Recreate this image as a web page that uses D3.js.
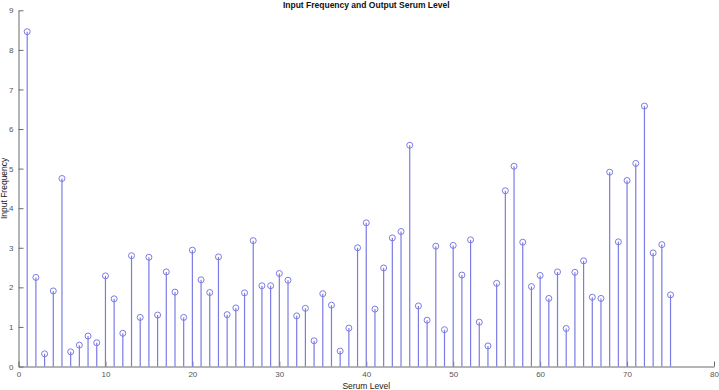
<!DOCTYPE html>
<html>
<head>
<meta charset="utf-8">
<script src="https://cdn.jsdelivr.net/npm/d3@7"></script>
<style>
    body { margin: 0; background: #fff; }
    text { font-family: Arial, "Liberation Sans", sans-serif; }
</style>
</head>
<body>
<svg class="chart" width="719" height="390"></svg>
<script>
"use strict";

const serumLevels = d3.range(1, 76);

const frequencies = [
    8.46, 2.25, 0.32, 1.91, 4.75, 0.37, 0.54, 0.77, 0.60, 2.29,
    1.71, 0.84, 2.80, 1.24, 2.76, 1.30, 2.39, 1.88, 1.24, 2.94,
    2.19, 1.87, 2.77, 1.31, 1.48, 1.86, 3.18, 2.04, 2.04, 2.35,
    2.18, 1.28, 1.47, 0.65, 1.84, 1.55, 0.39, 0.97, 3.00, 3.63,
    1.45, 2.49, 3.25, 3.41, 5.59, 1.53, 1.17, 3.04, 0.93, 3.06,
    2.31, 3.20, 1.12, 0.52, 2.10, 4.44, 5.06, 3.14, 2.02, 2.30,
    1.72, 2.39, 0.96, 2.38, 2.67, 1.75, 1.72, 4.91, 3.15, 4.70,
    5.13, 6.58, 2.87, 3.08, 1.81
];

const xTicks = [0, 10, 20, 30, 40, 50, 60, 70, 80];
const yTicks = [0, 1, 2, 3, 4, 5, 6, 7, 8, 9];

const STEM_COLOR = "#7b7be6";
const AXIS_COLOR = "#6a6a6a";

const svg = d3.select(".chart");

const x = d3.scaleLinear().domain([0, 80]).range([18.5, 714]);
const y = d3.scaleLinear().domain([0, 9]).range([366.5, 10.3]);

// axes, MATLAB style: ticks pointing inward
const xAxis = d3.axisBottom(x).tickValues(xTicks).tickSizeInner(-5).tickSizeOuter(0).tickPadding(5);
const yAxis = d3.axisLeft(y).tickValues(yTicks).tickSizeInner(-5).tickSizeOuter(0).tickPadding(5);

const gx = svg.append("g")
    .attr("transform", `translate(0,${y(0)})`)
    .call(xAxis);

const gy = svg.append("g")
    .attr("transform", `translate(${x(0)},0)`)
    .call(yAxis);

[gx, gy].forEach(g => {
    g.select(".domain").attr("stroke", AXIS_COLOR);
    g.selectAll(".tick line").attr("stroke", AXIS_COLOR);
    g.selectAll(".tick text")
        .attr("fill", "#555")
        .style("font-size", "8px");
});

// stems
svg.append("g")
    .selectAll("line")
    .data(serumLevels)
    .enter()
    .append("line")
    .attr("x1", d => x(d))
    .attr("x2", d => x(d))
    .attr("y1", y(0))
    .attr("y2", (d, i) => y(frequencies[i]))
    .attr("stroke", STEM_COLOR)
    .attr("stroke-width", 1.2);

// markers
svg.append("g")
    .selectAll("circle")
    .data(serumLevels)
    .enter()
    .append("circle")
    .attr("cx", d => x(d))
    .attr("cy", (d, i) => y(frequencies[i]))
    .attr("r", 3)
    .attr("fill", "none")
    .attr("stroke", STEM_COLOR)
    .attr("stroke-width", 1);

// labels
svg.append("text")
    .attr("x", (x(0) + x(80)) / 2)
    .attr("y", 8)
    .attr("text-anchor", "middle")
    .style("font-size", "8.5px")
    .style("font-weight", "bold")
    .attr("fill", "#111")
    .text("Input Frequency and Output Serum Level");

svg.append("text")
    .attr("x", (x(0) + x(80)) / 2)
    .attr("y", 389)
    .attr("text-anchor", "middle")
    .style("font-size", "8.5px")
    .attr("fill", "#222")
    .text("Serum Level");

svg.append("text")
    .attr("transform", `translate(6.5,${y(4.5)}) rotate(-90)`)
    .attr("text-anchor", "middle")
    .style("font-size", "8.5px")
    .attr("fill", "#222")
    .text("Input Frequency");
</script>
</body>
</html>
